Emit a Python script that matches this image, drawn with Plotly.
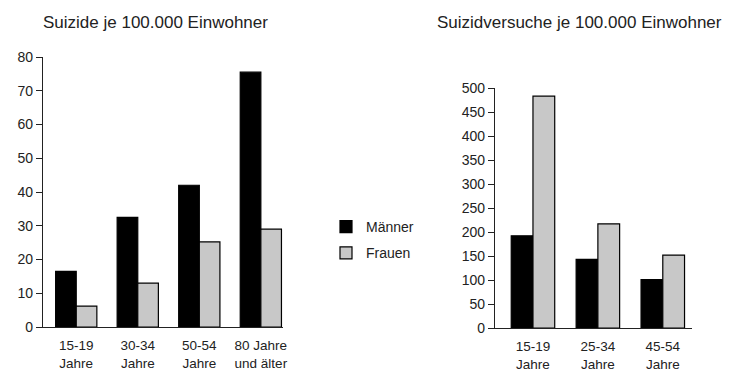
import plotly.graph_objects as go

# Data
left_categories = ["15-19<br>Jahre", "30-34<br>Jahre", "50-54<br>Jahre", "80 Jahre<br>und älter"]
left_maenner = [16.5, 32.5, 42, 75.5]
left_frauen = [6.2, 13, 25.2, 29]

right_categories = ["15-19<br>Jahre", "25-34<br>Jahre", "45-54<br>Jahre"]
right_maenner = [192, 143, 101]
right_frauen = [483, 217, 152]

left_title = "Suizide je 100.000 Einwohner"
right_title = "Suizidversuche je 100.000 Einwohner"

W, H = 737, 371
FONT = "Liberation Sans, Arial, Helvetica, sans-serif"
TXT = "#222222"
M_COL = "#000000"
F_COL = "#c8c8c8"

fig = go.Figure()
fig.add_trace(go.Bar(x=left_categories, y=left_maenner, name="Männer", marker=dict(color=M_COL, line=dict(color="#000", width=1.2)),
                     xaxis="x", yaxis="y", legendgroup="m"))
fig.add_trace(go.Bar(x=left_categories, y=left_frauen, name="Frauen", marker=dict(color=F_COL, line=dict(color="#000", width=1.2)),
                     xaxis="x", yaxis="y", legendgroup="f"))
fig.add_trace(go.Bar(x=right_categories, y=right_maenner, name="Männer", marker=dict(color=M_COL, line=dict(color="#000", width=1.2)),
                     xaxis="x2", yaxis="y2", legendgroup="m", showlegend=False))
fig.add_trace(go.Bar(x=right_categories, y=right_frauen, name="Frauen", marker=dict(color=F_COL, line=dict(color="#000", width=1.2)),
                     xaxis="x2", yaxis="y2", legendgroup="f", showlegend=False))

def px_x(p):
    return p / W

def px_y(p):
    return 1 - p / H

axis_common = dict(showline=True, linecolor="#222", linewidth=1.4, showgrid=False, zeroline=False,
                   automargin=False)
yfont = dict(family=FONT, size=14, color=TXT)
xfont = dict(family=FONT, size=13.5, color=TXT)

fig.update_layout(
    width=W, height=H,
    margin=dict(l=0, r=0, t=0, b=0, pad=0, autoexpand=False),
    paper_bgcolor="white", plot_bgcolor="white",
    barmode="group", bargap=0.33, bargroupgap=0,
    font=dict(family=FONT, size=14, color=TXT),
    showlegend=True,
    legend=dict(x=px_x(326), y=px_y(211), xanchor="left", yanchor="top",
                traceorder="grouped", tracegroupgap=5,
                font=dict(family=FONT, size=14, color=TXT), bgcolor="rgba(0,0,0,0)"),
    xaxis=dict(domain=[px_x(43), px_x(283)], anchor="y", range=[-0.54, 3.36], ticks="",
               ticklabelstandoff=6, tickfont=xfont, **axis_common),
    yaxis=dict(domain=[px_y(327), px_y(57)], anchor="x", range=[0, 80], dtick=10, ticks="outside",
               ticklen=6, tickwidth=1.4, tickcolor="#222", tickfont=yfont, **axis_common),
    xaxis2=dict(domain=[px_x(495), px_x(692)], anchor="y2", range=[-0.585, 2.45], ticks="",
                ticklabelstandoff=6, tickfont=xfont, **axis_common),
    yaxis2=dict(domain=[px_y(328), px_y(88)], anchor="x2", range=[0, 500], dtick=50, ticks="outside",
                ticklen=6, tickwidth=1.4, tickcolor="#222", tickfont=yfont, **axis_common),
    annotations=[
        dict(text=left_title, x=px_x(155), y=px_y(23), xref="paper", yref="paper", showarrow=False,
             xanchor="center", yanchor="middle", font=dict(family=FONT, size=17, color=TXT)),
        dict(text=right_title, x=px_x(579), y=px_y(23), xref="paper", yref="paper", showarrow=False,
             xanchor="center", yanchor="middle", font=dict(family=FONT, size=17, color=TXT)),
    ],
)

fig.write_html("out.html", config={"displayModeBar": False},
               post_script="document.body.style.margin='0px';document.body.style.overflow='hidden';")
